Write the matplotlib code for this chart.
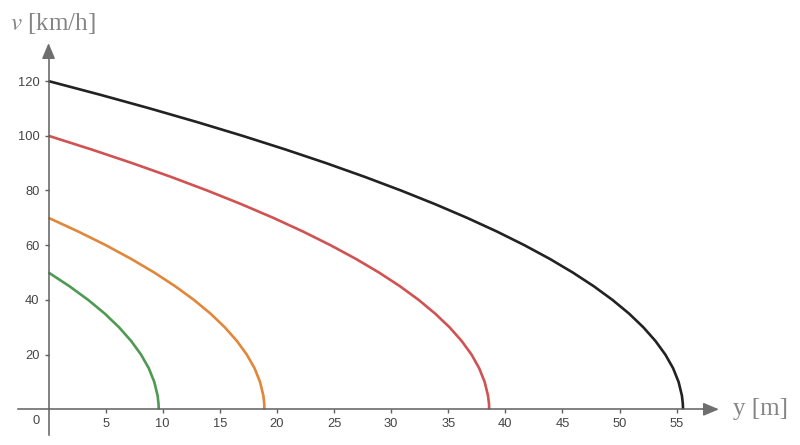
import matplotlib.pyplot as plt

plt.rcParams["mathtext.fontset"] = "stix"

# braking curves: distance y [m] at speed v [km/h]
v_50 = [50, 45, 40, 35, 30, 25, 20, 15, 10, 5, 2, 0]
y_50 = [0, 1.83, 3.47, 4.92, 6.17, 7.23, 8.10, 8.78, 9.26, 9.55, 9.63, 9.65]

v_70 = [70, 65, 60, 55, 50, 45, 40, 35, 30, 25, 20, 15, 10, 5, 2, 0]
y_70 = [0, 2.60, 5.02, 7.23, 9.26, 11.09, 12.73, 14.18, 15.43, 16.49,
        17.36, 18.04, 18.52, 18.81, 18.89, 18.90]

v_100 = [100, 95, 90, 85, 80, 75, 70, 65, 60, 55, 50, 45, 40, 35, 30,
         25, 20, 15, 10, 5, 2, 0]
y_100 = [0, 3.76, 7.33, 10.71, 13.89, 16.88, 19.68, 22.28, 24.69, 26.91,
         28.94, 30.77, 32.41, 33.85, 35.11, 36.17, 37.04, 37.71, 38.19,
         38.48, 38.57, 38.58]

v_120 = [120, 115, 110, 105, 100, 95, 90, 85, 80, 75, 70, 65, 60, 55, 50,
         45, 40, 35, 30, 25, 20, 15, 10, 5, 2, 0]
y_120 = [0, 4.53, 8.87, 13.02, 16.98, 20.74, 24.31, 27.68, 30.86, 33.85,
         36.65, 39.26, 41.67, 43.89, 45.91, 47.74, 49.38, 50.83, 52.08,
         53.14, 54.01, 54.69, 55.17, 55.46, 55.54, 55.56]

x_ticks = [5, 10, 15, 20, 25, 30, 35, 40, 45, 50, 55]
y_ticks = [20, 40, 60, 80, 100, 120]

fig = plt.figure(figsize=(8, 4.45), dpi=100)
ax = fig.add_axes([0, 0, 1, 1])
ax.set_xlim(-4.25, 65.8)
ax.set_ylim(-13.05, 149.65)

axis_col = "#5f5f5f"
for side in ["top", "right"]:
    ax.spines[side].set_visible(False)
ax.spines["bottom"].set_position(("data", 0))
ax.spines["left"].set_position(("data", 0))
ax.spines["bottom"].set_bounds(-2.7, 57.5)
ax.spines["left"].set_bounds(-9.4, 129)
for side in ["bottom", "left"]:
    ax.spines[side].set_color(axis_col)
    ax.spines[side].set_linewidth(1.1)

ax.annotate("", xy=(58.7, 0), xytext=(57.3, 0),
            arrowprops=dict(arrowstyle="-|>,head_length=0.95,head_width=0.4",
                            color="#6e6e6e", lw=1.1, shrinkA=0, shrinkB=0))
ax.annotate("", xy=(0, 133.9), xytext=(0, 128.5),
            arrowprops=dict(arrowstyle="-|>,head_length=0.95,head_width=0.4",
                            color="#6e6e6e", lw=1.1, shrinkA=0, shrinkB=0))

ax.set_xticks(x_ticks)
ax.set_yticks(y_ticks)
ax.set_xticklabels([str(t) for t in x_ticks])
ax.set_yticklabels([str(t) for t in y_ticks])
ax.tick_params(direction="out", length=3, width=1, color=axis_col,
               labelsize=9.3, labelcolor="#444444", pad=3.5)
for lab in ax.get_xticklabels() + ax.get_yticklabels():
    lab.set_fontfamily("Liberation Sans")
ax.text(-0.75, -1.9, "0", ha="right", va="top", fontsize=9.3,
        color="#444444", family="Liberation Sans")

ax.plot(y_50, v_50, color="#4e9a52", lw=1.9, solid_capstyle="butt")
ax.plot(y_70, v_70, color="#e0873a", lw=1.9, solid_capstyle="butt")
ax.plot(y_100, v_100, color="#d05252", lw=1.9, solid_capstyle="butt")
ax.plot(y_120, v_120, color="#222222", lw=1.9, solid_capstyle="butt")

ax.text(-3.4, 140.9, r"$v$ [km/h]", ha="left", va="center", fontsize=18,
        color="#858585", family="Liberation Serif")
ax.text(59.9, 0, "y [m]", ha="left", va="center", fontsize=18,
        color="#858585", family="Liberation Serif")

fig.savefig("out.png", dpi=100)
plt.close(fig)
